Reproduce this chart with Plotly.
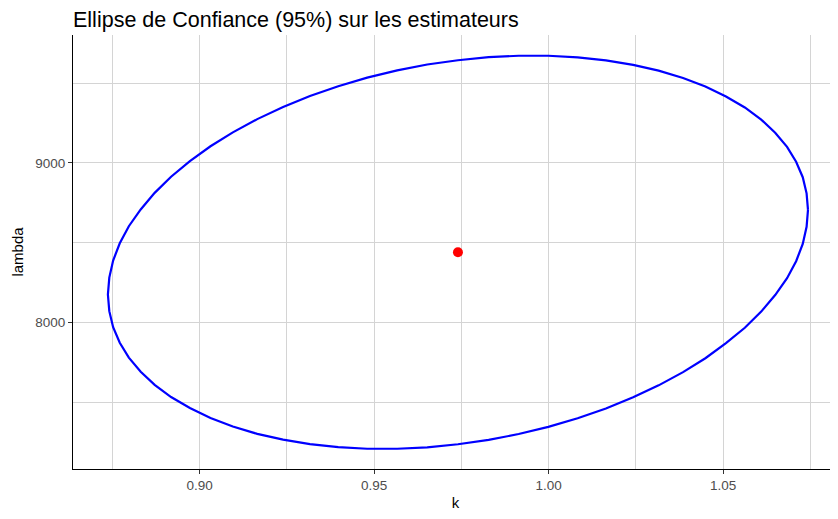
import plotly.graph_objects as go

# Ellipse outline points
ellipse_k = [1.0743, 1.0739, 1.0728, 1.0709, 1.0683, 1.0649, 1.0609, 1.0562, 1.0508, 1.0449,
             1.0385, 1.0315, 1.0242, 1.0164, 1.0083, 0.9999, 0.9914, 0.9828, 0.9740, 0.9652,
             0.9566, 0.9480, 0.9397, 0.9316, 0.9239, 0.9165, 0.9095, 0.9031, 0.8972, 0.8918,
             0.8871, 0.8831, 0.8797, 0.8771, 0.8752, 0.8741, 0.8737, 0.8741, 0.8752, 0.8771,
             0.8797, 0.8831, 0.8871, 0.8918, 0.8972, 0.9031, 0.9095, 0.9165, 0.9239, 0.9316,
             0.9397, 0.9480, 0.9566, 0.9652, 0.9740, 0.9828, 0.9914, 0.9999, 1.0083, 1.0164,
             1.0242, 1.0315, 1.0385, 1.0449, 1.0508, 1.0562, 1.0609, 1.0649, 1.0683, 1.0709,
             1.0728, 1.0739, 1.0743]
ellipse_lambda = [8705, 8809, 8910, 9007, 9100, 9189, 9271, 9347, 9416, 9478,
                  9532, 9578, 9614, 9642, 9661, 9671, 9671, 9662, 9643, 9616,
                  9579, 9534, 9480, 9419, 9350, 9274, 9191, 9104, 9011, 8913,
                  8812, 8708, 8603, 8496, 8388, 8281, 8175, 8071, 7970, 7873,
                  7780, 7691, 7609, 7533, 7464, 7402, 7348, 7302, 7266, 7238,
                  7219, 7209, 7209, 7218, 7237, 7264, 7301, 7346, 7400, 7461,
                  7531, 7606, 7689, 7776, 7870, 7967, 8068, 8172, 8277, 8384,
                  8492, 8599, 8705]

# Estimator point
est_k = [0.974]
est_lambda = [8440]

x_ticks = [0.90, 0.95, 1.00, 1.05]
y_ticks = [8000, 9000]

fig = go.Figure()
fig.add_trace(go.Scatter(x=ellipse_k, y=ellipse_lambda, mode="lines",
                         line=dict(color="#0000ff", width=2.2), showlegend=False))
fig.add_trace(go.Scatter(x=est_k, y=est_lambda, mode="markers",
                         marker=dict(color="#ff0000", size=10), showlegend=False))

grid = "#d4d4d4"
fig.update_layout(
    width=830, height=503,
    margin=dict(l=65, r=0, t=27, b=42),
    plot_bgcolor="white", paper_bgcolor="white",
    font=dict(family="Arial, Liberation Sans, sans-serif", color="#1a1a1a"),
    title=dict(text="Ellipse de Confiance (95%) sur les estimateurs",
               x=0, xref="paper", xanchor="left", y=0.978, yref="container", yanchor="middle",
               font=dict(size=21.5, color="#000000")),
    xaxis=dict(range=[0.8637, 1.0829], tickvals=x_ticks, tickformat=".2f",
               showgrid=True, gridcolor=grid, gridwidth=1,
               minor=dict(dtick=0.025, tick0=0.875, showgrid=True, gridcolor=grid, gridwidth=1),
               showline=True, linecolor="#000000", linewidth=1.2,
               ticks="outside", ticklen=4, tickcolor="#333333",
               tickfont=dict(size=13.5, color="#4d4d4d"),
               title=dict(text="k", font=dict(size=15, color="#000000"), standoff=9),
               automargin=False, zeroline=False),
    yaxis=dict(range=[7082, 9801], tickvals=y_ticks, tickformat="d",
               showgrid=True, gridcolor=grid, gridwidth=1,
               minor=dict(dtick=1000, tick0=7500, showgrid=True, gridcolor=grid, gridwidth=1),
               showline=True, linecolor="#000000", linewidth=1.2,
               ticks="outside", ticklen=4, tickcolor="#333333",
               tickfont=dict(size=13.5, color="#4d4d4d"),
               title=dict(text="lambda", font=dict(size=15, color="#000000"), standoff=7),
               automargin=False, zeroline=False),
)

fig.write_html("out.html")
